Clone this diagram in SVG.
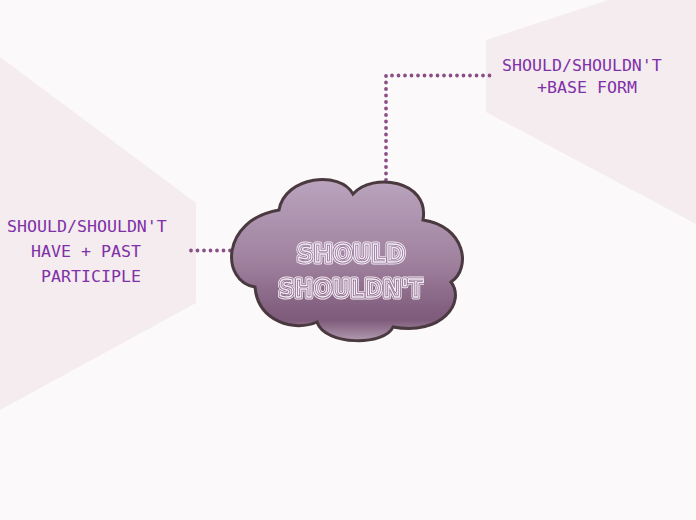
<svg xmlns="http://www.w3.org/2000/svg" width="696" height="520" viewBox="0 0 696 520">
<style>
.lbl{font-family:"DejaVu Sans Mono","Liberation Mono",monospace;font-size:16.6px;fill:#8030a8}
.dot{fill:none;stroke:#8a4f86;stroke-width:3.8;stroke-linecap:round;stroke-dasharray:0 6.5}
.ct{font-family:"DejaVu Sans","Liberation Sans",sans-serif;font-weight:bold;font-size:25px;text-anchor:middle;fill:none;stroke-linejoin:round}
.pale{fill:#f4ecee}
</style>
<defs>
<linearGradient id="cg" x1="0" y1="181" x2="0" y2="341" gradientUnits="userSpaceOnUse">
<stop offset="0" stop-color="#b9a3bd"/>
<stop offset="0.5" stop-color="#a0829f"/>
<stop offset="0.8" stop-color="#83607f"/>
<stop offset="0.87" stop-color="#7f5b7b"/>
<stop offset="1" stop-color="#b39bb1"/>
</linearGradient>
<filter id="gray" x="0" y="0" width="1" height="1">
<feColorMatrix type="identity"/>
</filter>
</defs>
<rect width="696" height="520" fill="#fcf9fa"/>
<polygon class="pale" points="0,57 196,203 196,303 0,410"/>
<polygon class="pale" points="486,40 608,0 696,0 696,224 486,112"/>
<g id="connectors">
<path class="dot" d="M386,180 L386,75.5 L490,75.5"/>
<path class="dot" d="M191,250.5 L233,250.5"/>
</g>
<g id="center">
<path d="M279,210 C285,176 340,170 353,194 C372,172 430,180 423,220 C465,226 472,268 451,282 C466,302 442,336 393,327 C385,346 325,346 317,322 C295,332 258,322 255,287 C221,282 220,220 279,210 Z" fill="url(#cg)" stroke="#4a3a3f" stroke-width="3"/>
<g class="ct" filter="url(#gray)">
<text x="351" y="262" textLength="108" lengthAdjust="spacingAndGlyphs" stroke="#f3ebf3" stroke-width="5">SHOULD</text>
<text x="351" y="262" textLength="108" lengthAdjust="spacingAndGlyphs" stroke="#94749a" stroke-width="3.2">SHOULD</text>
<text x="351" y="262" textLength="108" lengthAdjust="spacingAndGlyphs" stroke="#f3ebf3" stroke-width="1.4">SHOULD</text>
<text x="351" y="297" textLength="145" lengthAdjust="spacingAndGlyphs" stroke="#f3ebf3" stroke-width="5">SHOULDN'T</text>
<text x="351" y="297" textLength="145" lengthAdjust="spacingAndGlyphs" stroke="#8c6a8c" stroke-width="3.2">SHOULDN'T</text>
<text x="351" y="297" textLength="145" lengthAdjust="spacingAndGlyphs" stroke="#f3ebf3" stroke-width="1.4">SHOULDN'T</text>
</g>
</g>
<g id="node-base-form">
<text class="lbl" x="502" y="71">SHOULD/SHOULDN'T</text>
<text class="lbl" x="537" y="93">+BASE FORM</text>
</g>
<g id="node-have-past">
<text class="lbl" x="7" y="232">SHOULD/SHOULDN'T</text>
<text class="lbl" x="31" y="257">HAVE + PAST</text>
<text class="lbl" x="41" y="282">PARTICIPLE</text>
</g>
</svg>
